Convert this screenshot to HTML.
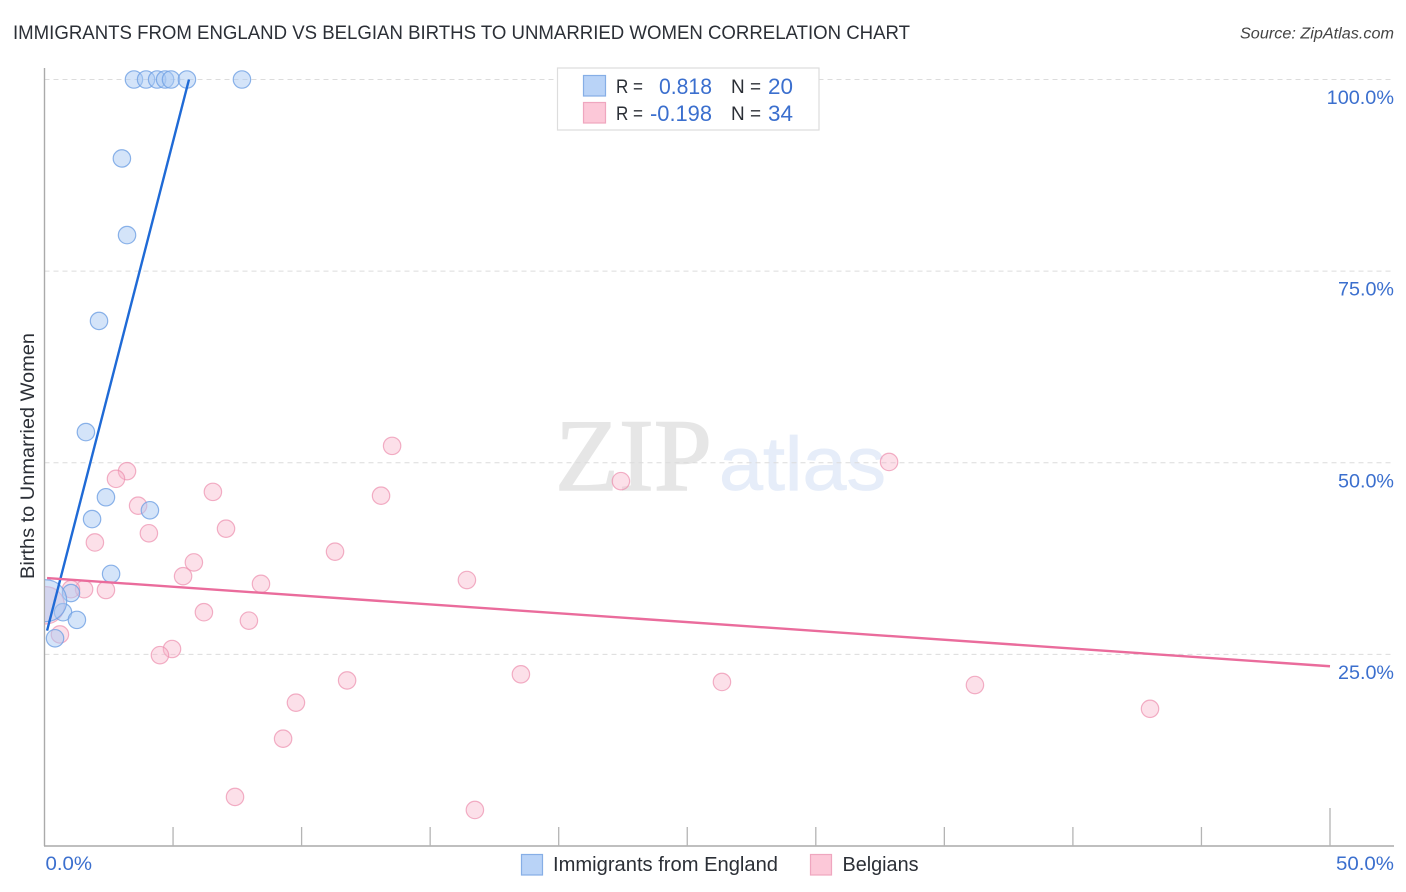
<!DOCTYPE html>
<html lang="en">
<head>
<meta charset="utf-8">
<title>Immigrants from England vs Belgian Births to Unmarried Women Correlation Chart</title>
<style>
html,body{margin:0;padding:0;background:#fff;}
body{width:1406px;height:892px;overflow:hidden;}
svg{display:block;font-family:"Liberation Sans",sans-serif;}
</style>
</head>
<body>
<svg id="chart" xmlns="http://www.w3.org/2000/svg" width="1406" height="892" viewBox="0 0 1406 892">
  <defs>
    <clipPath id="plotClip"><rect x="45" y="60" width="1349" height="786"/></clipPath>
  </defs>
  <g>
    <text x="555" y="490" font-family="'Liberation Serif',serif" font-size="103" fill="#e6e6e6" stroke="#e6e6e6" stroke-width="1.4" textLength="157" lengthAdjust="spacingAndGlyphs">ZIP</text>
    <text x="719" y="490" font-size="76" fill="#e6edf9" stroke="#e6edf9" stroke-width="0.8" textLength="167" lengthAdjust="spacingAndGlyphs">atlas</text>
  </g>
  <g id="grid"></g>
  <g id="axes"></g>
  <g clip-path="url(#plotClip)">
    <g id="pinkPts"></g>
    <g id="bluePts"></g>
  </g>
  <g id="lines"></g>
  <text x="13" y="39" font-size="19" fill="#2b2f36" textLength="897" lengthAdjust="spacingAndGlyphs">IMMIGRANTS FROM ENGLAND VS BELGIAN BIRTHS TO UNMARRIED WOMEN CORRELATION CHART</text>
  <text x="1394" y="38.5" font-size="15.5" font-style="italic" fill="#444" text-anchor="end" textLength="154" lengthAdjust="spacingAndGlyphs">Source: ZipAtlas.com</text>
  <text transform="translate(34,456) rotate(-90)" font-size="19.5" fill="#2b2f36" text-anchor="middle" textLength="246" lengthAdjust="spacingAndGlyphs">Births to Unmarried Women</text>

  <g>
    <rect x="557.5" y="68" width="261.5" height="62" fill="#fff" stroke="#dddddd" stroke-width="1.2"/>
    <rect x="583.5" y="75.5" width="22" height="20.5" fill="#b9d3f7" stroke="#86aee6" stroke-width="1.2"/>
    <rect x="583.5" y="102.5" width="22" height="20.5" fill="#fcc8d8" stroke="#efa6bf" stroke-width="1.2"/>
    <text x="616" y="93" font-size="19.5" fill="#2b2f36" textLength="27" lengthAdjust="spacingAndGlyphs">R =</text>
    <text x="712" y="94" font-size="22" fill="#3b6fce" text-anchor="end" textLength="53" lengthAdjust="spacingAndGlyphs">0.818</text>
    <text x="731" y="93" font-size="19.5" fill="#2b2f36" textLength="30" lengthAdjust="spacingAndGlyphs">N =</text>
    <text x="793" y="94" font-size="22" fill="#3b6fce" text-anchor="end" textLength="25" lengthAdjust="spacingAndGlyphs">20</text>
    <text x="616" y="120" font-size="19.5" fill="#2b2f36" textLength="27" lengthAdjust="spacingAndGlyphs">R =</text>
    <text x="712" y="121" font-size="22" fill="#3b6fce" text-anchor="end" textLength="62" lengthAdjust="spacingAndGlyphs">-0.198</text>
    <text x="731" y="120" font-size="19.5" fill="#2b2f36" textLength="30" lengthAdjust="spacingAndGlyphs">N =</text>
    <text x="793" y="121" font-size="22" fill="#3b6fce" text-anchor="end" textLength="25" lengthAdjust="spacingAndGlyphs">34</text>
  </g>

  <g>
    <rect x="521.5" y="854.5" width="21" height="20.5" fill="#b9d3f7" stroke="#86aee6" stroke-width="1.2"/>
    <text x="553" y="871" font-size="20" fill="#2b2f36" textLength="225" lengthAdjust="spacingAndGlyphs">Immigrants from England</text>
    <rect x="810.5" y="854.5" width="21" height="20.5" fill="#fcc8d8" stroke="#efa6bf" stroke-width="1.2"/>
    <text x="842.5" y="871" font-size="20" fill="#2b2f36" textLength="76" lengthAdjust="spacingAndGlyphs">Belgians</text>
  </g>
</svg>
<script>
var yTickValues = [25, 50, 75, 100];
var yTickLabels = ["25.0%", "50.0%", "75.0%", "100.0%"];
var xTickValues = [0, 5, 10, 15, 20, 25, 30, 35, 40, 45, 50];
var xEndLabels = ["0.0%", "50.0%"];

var englandX = [3.48, 3.95, 4.38, 4.69, 4.92, 5.54, 7.68, 3.01, 3.21, 2.12, 1.61, 2.39, 1.85, 4.10, 2.59, 1.03, 0.72, 1.26, 0.41, 0.05];
var englandY = [100, 100, 100, 100, 100, 100, 100, 89.7, 79.7, 68.5, 54.0, 45.5, 42.65, 43.8, 35.5, 33.0, 30.5, 29.5, 27.1, 32.0];
var englandWeight = [1, 1, 1, 1, 1, 1, 1, 1, 1, 1, 1, 1, 1, 1, 1, 1, 1, 1, 1, 5.8];

var belgiansX = [32.85, 22.42, 13.52, 13.09, 3.21, 2.78, 3.64, 6.55, 4.06, 7.06, 1.96, 11.30, 5.81, 5.39, 16.43, 8.42, 1.54, 2.39, 1.03, 6.20, 7.95, 0.60, 4.96, 4.49, 18.53, 11.77, 26.35, 36.19, 9.78, 43.00, 9.28, 7.41, 16.74, 0.05];
var belgiansY = [50.1, 47.6, 52.2, 45.7, 48.9, 47.9, 44.4, 46.2, 40.8, 41.4, 39.6, 38.4, 37.0, 35.2, 34.7, 34.2, 33.5, 33.4, 33.5, 30.5, 29.4, 27.6, 25.7, 24.9, 22.4, 21.6, 21.4, 21.0, 18.7, 17.9, 14.0, 6.4, 4.7, 31.4];
var belgiansWeight = [1, 1, 1, 1, 1, 1, 1, 1, 1, 1, 1, 1, 1, 1, 1, 1, 1, 1, 1, 1, 1, 1, 1, 1, 1, 1, 1, 1, 1, 1, 1, 1, 1, 4.6];

var englandTrendX = [0.1, 5.62];
var englandTrendY = [28.1, 100];
var belgiansTrendX = [0.1, 50];
var belgiansTrendY = [34.95, 23.45];

function xScale(v) { return 44.5 + v * 25.71; }
function yScale(v) { return 846 - v * 7.665; }

var NS = "http://www.w3.org/2000/svg";
function make(tag, attrs, parent, txt) {
  var el = document.createElementNS(NS, tag);
  for (var k in attrs) { el.setAttribute(k, attrs[k]); }
  if (txt !== undefined) { el.textContent = txt; }
  parent.appendChild(el);
  return el;
}

var gridG = document.getElementById("grid");
var axesG = document.getElementById("axes");
var pinkG = document.getElementById("pinkPts");
var blueG = document.getElementById("bluePts");
var linesG = document.getElementById("lines");

yTickValues.forEach(function (v, i) {
  var y = yScale(v);
  var line = make("line", {x1: 44.5, x2: 1394, y1: y, y2: y, stroke: "#dcdcdc", "stroke-width": 1, "stroke-dasharray": "5 4"}, gridG);
  
  
  var label = make("text", {x: 1394, y: y + 24.5, "font-size": 19.5, fill: "#3b6fce", "text-anchor": "end", textLength: yTickLabels[i].length * 11.3 - 0.5, lengthAdjust: "spacingAndGlyphs"}, axesG, yTickLabels[i]);
  
  
});

var yAxis = make("line", {x1: 44.5, x2: 44.5, y1: 68, y2: 846, stroke: "#aaaaaa", "stroke-width": 1.4}, axesG);


var xAxis = make("line", {x1: 44, x2: 1394, y1: 846, y2: 846, stroke: "#aaaaaa", "stroke-width": 1.4}, axesG);



xTickValues.forEach(function (v, i) {
  if (i === 0) { return; }
  var x = xScale(v);
  var top = (i === xTickValues.length - 1) ? 808 : 827;
  var tick = make("line", {x1: x, x2: x, y1: top, y2: 846, stroke: "#b4b4b4", "stroke-width": 1.3}, axesG);
  
  
});

var xLabelLeft = make("text", {x: 45.5, y: 870, "font-size": 19.5, fill: "#3b6fce", textLength: 46.5, lengthAdjust: "spacingAndGlyphs"}, axesG, xEndLabels[0]);


var xLabelRight = make("text", {x: 1394, y: 870, "font-size": 19.5, fill: "#3b6fce", "text-anchor": "end", textLength: 58, lengthAdjust: "spacingAndGlyphs"}, axesG, xEndLabels[1]);



belgiansX.forEach(function (v, i) {
  var pt = make("circle", {cx: xScale(v), cy: yScale(belgiansY[i]), r: 8.7 * Math.sqrt(belgiansWeight[i]), fill: "#f8b4ca", "fill-opacity": 0.42, stroke: "#ec8fae", "stroke-opacity": 0.7, "stroke-width": 1.2}, pinkG);
  
  
});

englandX.forEach(function (v, i) {
  var pt = make("circle", {cx: xScale(v), cy: yScale(englandY[i]), r: 8.7 * Math.sqrt(englandWeight[i]), fill: "#a9c9f3", "fill-opacity": 0.5, stroke: "#6fa0e4", "stroke-opacity": 0.8, "stroke-width": 1.2}, blueG);
  
  
});

var blueLine = make("line", {x1: xScale(englandTrendX[0]), y1: yScale(englandTrendY[0]), x2: xScale(englandTrendX[1]), y2: yScale(englandTrendY[1]), stroke: "#1f6ad6", "stroke-width": 2.4}, linesG);


var pinkLine = make("line", {x1: xScale(belgiansTrendX[0]), y1: yScale(belgiansTrendY[0]), x2: xScale(belgiansTrendX[1]), y2: yScale(belgiansTrendY[1]), stroke: "#ea6c9c", "stroke-width": 2.4}, linesG);


</script>
</body>
</html>
